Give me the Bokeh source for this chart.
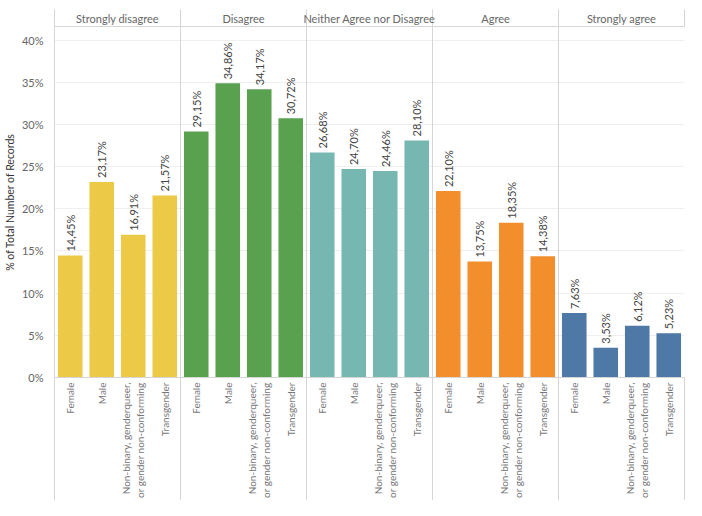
from math import pi
from bokeh.plotting import figure
from bokeh.models import (FactorRange, Range1d, LinearAxis, FixedTicker, Span,
                          ColumnDataSource, PrintfTickFormatter)
from bokeh.core.properties import value
from bokeh.embed import file_html
from bokeh.resources import INLINE

# ---- data -----------------------------------------------------------------
responses = ["Strongly disagree", "Disagree", "Neither Agree nor Disagree",
             "Agree", "Strongly agree"]
genders = ["Female", "Male",
           "Non-binary, genderqueer,\nor gender non-conforming", "Transgender"]
strongly_disagree = [14.45, 23.17, 16.91, 21.57]
disagree = [29.15, 34.86, 34.17, 30.72]
neither = [26.68, 24.70, 24.46, 28.10]
agree = [22.10, 13.75, 18.35, 14.38]
strongly_agree = [7.63, 3.53, 6.12, 5.23]
series = [strongly_disagree, disagree, neither, agree, strongly_agree]
colors = ["#EDC948", "#59A14F", "#76B7B2", "#F28E2B", "#4E79A7"]
y_ticks = [0, 5, 10, 15, 20, 25, 30, 35, 40]

FONT = "Lato"
GRID = "#efefef"
SEP = "#d6d6d6"

xs, tops, cols, labels = [], [], [], []
for r, vals, c in zip(responses, series, colors):
    for g, v in zip(genders, vals):
        xs.append((r, g))
        tops.append(v)
        cols.append(c)
        labels.append(f"{v:.2f}".replace(".", ",") + "%")
src = ColumnDataSource(dict(x=xs, top=tops, color=cols, label=labels))

p = figure(width=686, height=500,
           x_range=FactorRange(*xs, factor_padding=0, group_padding=0,
                               subgroup_padding=0, range_padding=0),
           y_range=Range1d(0, 41.6),
           x_axis_location=None,
           output_backend="svg", toolbar_location=None,
           min_border_left=47, min_border_right=2, min_border_top=26,
           min_border_bottom=0)
p.outline_line_color = None
p.background_fill_color = "white"
p.border_fill_color = "white"

p.vbar(x="x", top="top", width=0.78, source=src, fill_color="color",
       line_color=None)
p.text(x="x", y="top", text="label", source=src, angle=pi / 2,
       text_align="left", text_baseline="middle", y_offset=-4,
       text_font=value(FONT), text_font_size="11px", text_color="#444444")

# grid
p.xgrid.visible = False
p.ygrid.ticker = FixedTicker(ticks=y_ticks)
p.ygrid.grid_line_color = GRID

# y axis
ya = p.yaxis[0]
ya.ticker = FixedTicker(ticks=y_ticks)
ya.formatter = PrintfTickFormatter(format="%d%%")
ya.axis_label = "% of Total Number of Records"
ya.axis_label_text_font = FONT
ya.axis_label_text_font_size = "10.5px"
ya.axis_label_text_font_style = "normal"
ya.axis_label_text_color = "#333333"
ya.axis_label_standoff = 3
ya.major_label_text_font = FONT
ya.major_label_text_font_size = "11px"
ya.major_label_text_color = "#666666"
ya.major_tick_line_color = None
ya.minor_tick_line_color = None
ya.axis_line_color = SEP
ya.major_label_standoff = 5

n = len(genders)
m = len(responses)

# bottom axis: gender labels at each factor's centre, panel borders as long ticks
bottom = LinearAxis(
    ticker=FixedTicker(ticks=[n * i + j + 0.5 for i in range(m) for j in range(n)],
                       minor_ticks=[n * i for i in range(m + 1)]),
    major_label_overrides={n * i + j + 0.5: g
                           for i in range(m) for j, g in enumerate(genders)},
)
bottom.major_label_orientation = pi / 2
bottom.major_label_text_font = FONT
bottom.major_label_text_font_size = "10px"
bottom.major_label_text_color = "#777777"
bottom.major_tick_line_color = None
bottom.major_tick_out = 0
bottom.major_tick_in = 0
bottom.minor_tick_line_color = SEP
bottom.minor_tick_out = 140
bottom.minor_tick_in = 0
bottom.major_label_standoff = -135
bottom.axis_line_color = SEP
p.add_layout(bottom, "below")

# header axis (panel titles), on the same factor range's synthetic coordinates
hdr = LinearAxis(
    ticker=FixedTicker(ticks=[n * (i + 0.5) for i in range(m)],
                       minor_ticks=[n * i for i in range(m + 1)]),
    major_label_overrides={n * (i + 0.5): r for i, r in enumerate(responses)},
)
hdr.major_tick_line_color = None
hdr.major_tick_out = 0
hdr.major_tick_in = 0
hdr.minor_tick_line_color = SEP
hdr.minor_tick_out = 17
hdr.minor_tick_in = 0
hdr.axis_line_color = SEP
hdr.major_label_standoff = -15
hdr.major_label_text_font = FONT
hdr.major_label_text_font_size = "11px"
hdr.major_label_text_font_style = "normal"
hdr.major_label_text_color = "#666666"
p.add_layout(hdr, "above")

for i in range(1, m):
    p.add_layout(Span(location=n * i, dimension="height",
                      line_color=SEP, line_width=1))

open("out.html", "w").write(file_html(p, INLINE))
